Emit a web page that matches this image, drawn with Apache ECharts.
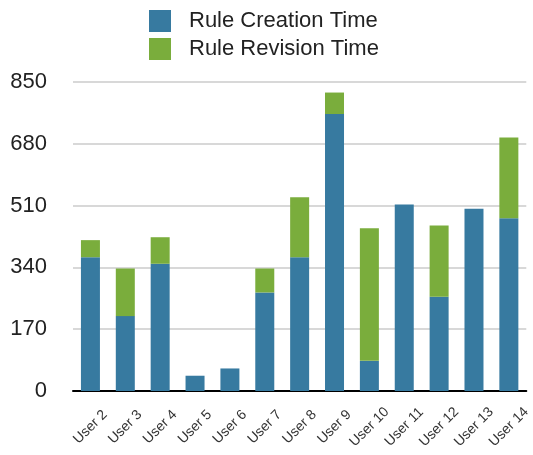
<!DOCTYPE html>
<html><head><meta charset="utf-8">
<script src="https://cdn.jsdelivr.net/npm/echarts@6/dist/echarts.min.js"></script>
<style>html,body{margin:0;padding:0;background:#fff}#c{width:533px;height:455px}</style>
</head><body><div id="c"></div>
<script>
var categories = ['User 2','User 3','User 4','User 5','User 6','User 7','User 8','User 9','User 10','User 11','User 12','User 13','User 14'];
var creationTime = [368, 206, 350, 42, 62, 271, 368, 762, 83, 513, 259, 501, 475];
var revisionTime = [47, 131, 73, 0, 0, 66, 165, 59, 365, 0, 196, 0, 222];
var yTicks = [0, 170, 340, 510, 680, 850];

var chart = echarts.init(document.getElementById('c'), null, {renderer: 'canvas'});
chart.setOption({
  animation: false,
  backgroundColor: '#fff',
  textStyle: {fontFamily: 'Liberation Sans, Arial, sans-serif'},
  legend: {
    orient: 'vertical', left: 144, top: 5,
    itemWidth: 22, itemHeight: 22, itemGap: 6,
    icon: 'rect',
    textStyle: {fontSize: 22, color: '#222', padding: [0, 0, 0, 13]},
    data: ['Rule Creation Time', 'Rule Revision Time']
  },
  grid: {left: 73, right: 0, top: 82, bottom: 64, containLabel: false},
  xAxis: {
    type: 'category', data: categories,
    axisLine: {lineStyle: {color: '#000', width: 2}},
    axisTick: {show: false},
    axisLabel: {rotate: 45, fontSize: 14, color: '#333', margin: 36, interval: 0, align: 'center', verticalAlign: 'middle'}
  },
  yAxis: {
    type: 'value', min: yTicks[0], max: yTicks[yTicks.length - 1], interval: 170,
    axisLine: {show: false}, axisTick: {show: false},
    axisLabel: {fontSize: 22, color: '#222', margin: 26},
    splitLine: {lineStyle: {color: '#cbcbcb', width: 1.5}}
  },
  series: [
    {name: 'Rule Creation Time', type: 'bar', stack: 't', data: creationTime, barWidth: 19,
     itemStyle: {color: '#377aa0'}},
    {name: 'Rule Revision Time', type: 'bar', stack: 't', data: revisionTime, barWidth: 19,
     itemStyle: {color: '#7aad3c'}}
  ]
});
</script></body></html>
